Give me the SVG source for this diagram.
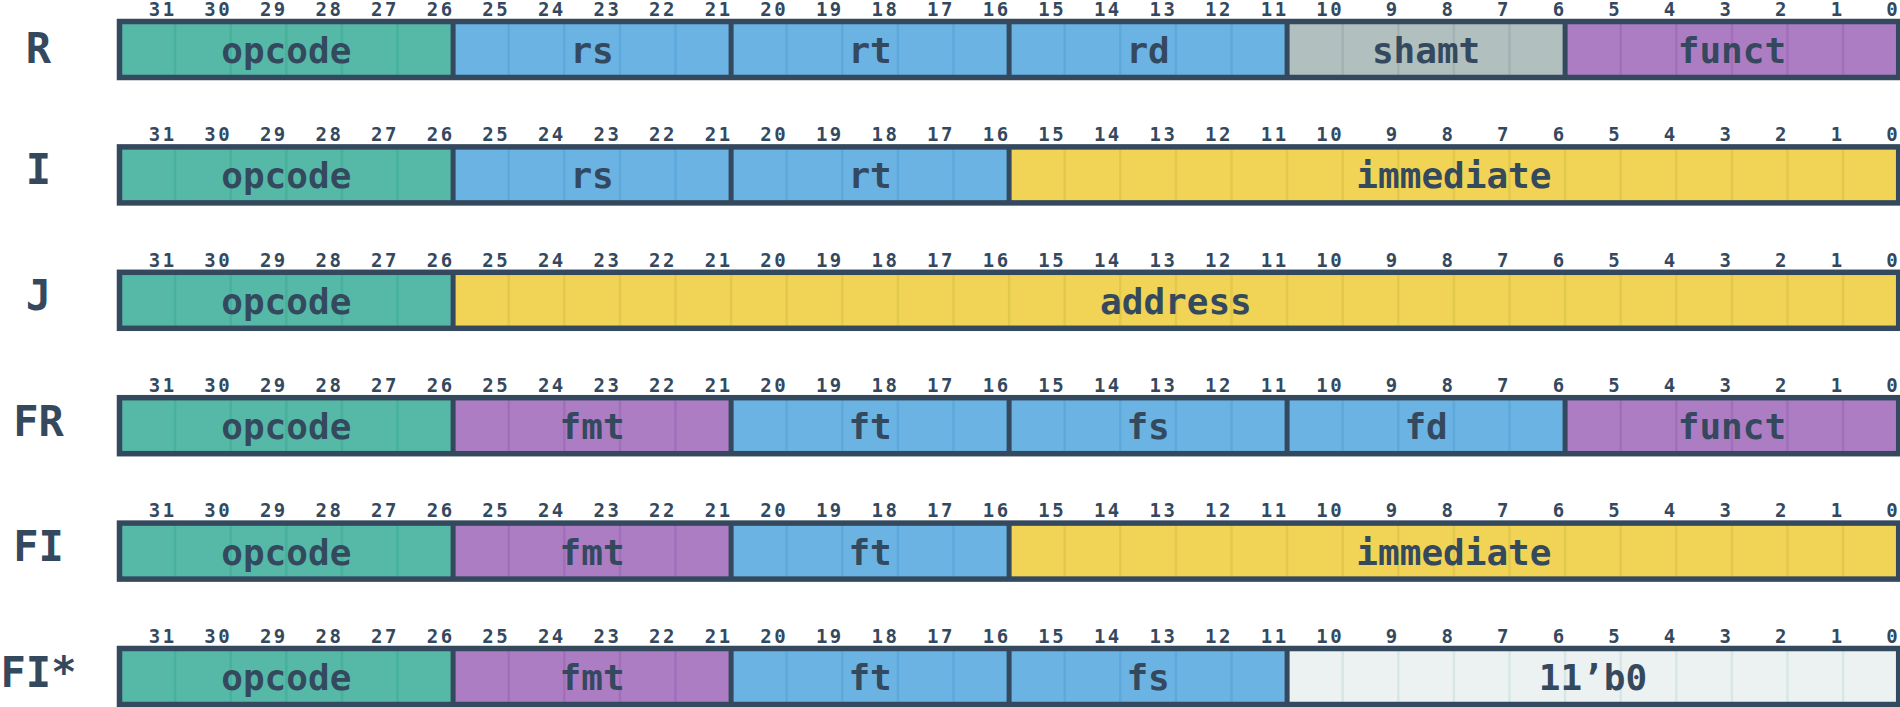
<svg xmlns="http://www.w3.org/2000/svg" width="1900" height="707" viewBox="0 0 1900 707">
<style>
text{font-family:"DejaVu Sans Mono","Liberation Mono",monospace;font-weight:bold;fill:#34495e}
.rowlabel{font-size:42px;text-anchor:middle}
.field{font-size:36px;text-anchor:middle}
.bit{font-size:19px;text-anchor:end;letter-spacing:2.5px}
.teal{fill:#56b9a7}.teal-l{stroke:#47b19c}
.blue{fill:#6bb3e3}.blue-l{stroke:#5ea9dc}
.gray{fill:#b1bfbf}.gray-l{stroke:#a1b3b4}
.purple{fill:#ad7dc4}.purple-l{stroke:#a06fba}
.yellow{fill:#f1d456}.yellow-l{stroke:#e2c84c}
.light{fill:#ecf1f2}.light-l{stroke:#d6e7e5}
path.l{stroke-width:2.5;fill:none}
.div{stroke:#34495e;stroke-width:5;fill:none}
.frame{fill:none;stroke:#34495e;stroke-width:5.5}
</style>
<rect width="1900" height="707" fill="#ffffff"/>

<!-- Row R -->
<g id="row-R">
<text class="rowlabel" x="38.5" y="63">R</text>
<text class="bit" transform="translate(-0.5 0.7)"><tspan x="177.1" y="15">31</tspan><tspan x="232.7" y="15">30</tspan><tspan x="288.3" y="15">29</tspan><tspan x="343.9" y="15">28</tspan><tspan x="399.5" y="15">27</tspan><tspan x="455.1" y="15">26</tspan><tspan x="510.7" y="15">25</tspan><tspan x="566.3" y="15">24</tspan><tspan x="621.9" y="15">23</tspan><tspan x="677.5" y="15">22</tspan><tspan x="733.1" y="15">21</tspan><tspan x="788.7" y="15">20</tspan><tspan x="844.3" y="15">19</tspan><tspan x="899.9" y="15">18</tspan><tspan x="955.5" y="15">17</tspan><tspan x="1011.1" y="15">16</tspan><tspan x="1066.7" y="15">15</tspan><tspan x="1122.3" y="15">14</tspan><tspan x="1177.9" y="15">13</tspan><tspan x="1233.5" y="15">12</tspan><tspan x="1289.1" y="15">11</tspan><tspan x="1344.7" y="15">10</tspan><tspan x="1400.3" y="15">9</tspan><tspan x="1455.9" y="15">8</tspan><tspan x="1511.5" y="15">7</tspan><tspan x="1567.1" y="15">6</tspan><tspan x="1622.7" y="15">5</tspan><tspan x="1678.3" y="15">4</tspan><tspan x="1733.9" y="15">3</tspan><tspan x="1789.5" y="15">2</tspan><tspan x="1845.1" y="15">1</tspan><tspan x="1900.7" y="15">0</tspan></text>
<g id="R-opcode"><rect class="teal" x="119.5" y="21.5" width="333.6" height="56"/><path class="l teal-l" d="M175.1 24V75M230.7 24V75M286.3 24V75M341.9 24V75M397.5 24V75"/><text class="field" x="286.3" y="63">opcode</text></g>
<g id="R-rs"><rect class="blue" x="453.1" y="21.5" width="278" height="56"/><path class="l blue-l" d="M508.7 24V75M564.3 24V75M619.9 24V75M675.5 24V75"/><text class="field" x="592.1" y="63">rs</text></g>
<g id="R-rt"><rect class="blue" x="731.1" y="21.5" width="278" height="56"/><path class="l blue-l" d="M786.7 24V75M842.3 24V75M897.9 24V75M953.5 24V75"/><text class="field" x="870.1" y="63">rt</text></g>
<g id="R-rd"><rect class="blue" x="1009.1" y="21.5" width="278" height="56"/><path class="l blue-l" d="M1064.7 24V75M1120.3 24V75M1175.9 24V75M1231.5 24V75"/><text class="field" x="1148.1" y="63">rd</text></g>
<g id="R-shamt"><rect class="gray" x="1287.1" y="21.5" width="278" height="56"/><path class="l gray-l" d="M1342.7 24V75M1398.3 24V75M1453.9 24V75M1509.5 24V75"/><text class="field" x="1426.1" y="63">shamt</text></g>
<g id="R-funct"><rect class="purple" x="1565.1" y="21.5" width="333.6" height="56"/><path class="l purple-l" d="M1620.7 24V75M1676.3 24V75M1731.9 24V75M1787.5 24V75M1843.1 24V75"/><text class="field" x="1731.9" y="63">funct</text></g>
<path class="div" d="M453.1 21.5V77.5M731.1 21.5V77.5M1009.1 21.5V77.5M1287.1 21.5V77.5M1565.1 21.5V77.5"/>
<rect class="frame" x="119.5" y="21.5" width="1779.2" height="56"/>
</g>

<!-- Row I -->
<g id="row-I" transform="translate(0,125.4)">
<text class="rowlabel" x="38.5" y="59">I</text>
<text class="bit" transform="translate(-0.5 0.7)"><tspan x="177.1" y="15">31</tspan><tspan x="232.7" y="15">30</tspan><tspan x="288.3" y="15">29</tspan><tspan x="343.9" y="15">28</tspan><tspan x="399.5" y="15">27</tspan><tspan x="455.1" y="15">26</tspan><tspan x="510.7" y="15">25</tspan><tspan x="566.3" y="15">24</tspan><tspan x="621.9" y="15">23</tspan><tspan x="677.5" y="15">22</tspan><tspan x="733.1" y="15">21</tspan><tspan x="788.7" y="15">20</tspan><tspan x="844.3" y="15">19</tspan><tspan x="899.9" y="15">18</tspan><tspan x="955.5" y="15">17</tspan><tspan x="1011.1" y="15">16</tspan><tspan x="1066.7" y="15">15</tspan><tspan x="1122.3" y="15">14</tspan><tspan x="1177.9" y="15">13</tspan><tspan x="1233.5" y="15">12</tspan><tspan x="1289.1" y="15">11</tspan><tspan x="1344.7" y="15">10</tspan><tspan x="1400.3" y="15">9</tspan><tspan x="1455.9" y="15">8</tspan><tspan x="1511.5" y="15">7</tspan><tspan x="1567.1" y="15">6</tspan><tspan x="1622.7" y="15">5</tspan><tspan x="1678.3" y="15">4</tspan><tspan x="1733.9" y="15">3</tspan><tspan x="1789.5" y="15">2</tspan><tspan x="1845.1" y="15">1</tspan><tspan x="1900.7" y="15">0</tspan></text>
<g id="I-opcode"><rect class="teal" x="119.5" y="21.5" width="333.6" height="56"/><path class="l teal-l" d="M175.1 24V75M230.7 24V75M286.3 24V75M341.9 24V75M397.5 24V75"/><text class="field" x="286.3" y="63">opcode</text></g>
<g id="I-rs"><rect class="blue" x="453.1" y="21.5" width="278" height="56"/><path class="l blue-l" d="M508.7 24V75M564.3 24V75M619.9 24V75M675.5 24V75"/><text class="field" x="592.1" y="63">rs</text></g>
<g id="I-rt"><rect class="blue" x="731.1" y="21.5" width="278" height="56"/><path class="l blue-l" d="M786.7 24V75M842.3 24V75M897.9 24V75M953.5 24V75"/><text class="field" x="870.1" y="63">rt</text></g>
<g id="I-immediate"><rect class="yellow" x="1009.1" y="21.5" width="889.6" height="56"/><path class="l yellow-l" d="M1064.7 24V75M1120.3 24V75M1175.9 24V75M1231.5 24V75M1287.1 24V75M1342.7 24V75M1398.3 24V75M1453.9 24V75M1509.5 24V75M1565.1 24V75M1620.7 24V75M1676.3 24V75M1731.9 24V75M1787.5 24V75M1843.1 24V75"/><text class="field" x="1453.9" y="63">immediate</text></g>
<path class="div" d="M453.1 21.5V77.5M731.1 21.5V77.5M1009.1 21.5V77.5"/>
<rect class="frame" x="119.5" y="21.5" width="1779.2" height="56"/>
</g>

<!-- Row J -->
<g id="row-J" transform="translate(0,250.8)">
<text class="rowlabel" x="38.5" y="59">J</text>
<text class="bit" transform="translate(-0.5 0.7)"><tspan x="177.1" y="15">31</tspan><tspan x="232.7" y="15">30</tspan><tspan x="288.3" y="15">29</tspan><tspan x="343.9" y="15">28</tspan><tspan x="399.5" y="15">27</tspan><tspan x="455.1" y="15">26</tspan><tspan x="510.7" y="15">25</tspan><tspan x="566.3" y="15">24</tspan><tspan x="621.9" y="15">23</tspan><tspan x="677.5" y="15">22</tspan><tspan x="733.1" y="15">21</tspan><tspan x="788.7" y="15">20</tspan><tspan x="844.3" y="15">19</tspan><tspan x="899.9" y="15">18</tspan><tspan x="955.5" y="15">17</tspan><tspan x="1011.1" y="15">16</tspan><tspan x="1066.7" y="15">15</tspan><tspan x="1122.3" y="15">14</tspan><tspan x="1177.9" y="15">13</tspan><tspan x="1233.5" y="15">12</tspan><tspan x="1289.1" y="15">11</tspan><tspan x="1344.7" y="15">10</tspan><tspan x="1400.3" y="15">9</tspan><tspan x="1455.9" y="15">8</tspan><tspan x="1511.5" y="15">7</tspan><tspan x="1567.1" y="15">6</tspan><tspan x="1622.7" y="15">5</tspan><tspan x="1678.3" y="15">4</tspan><tspan x="1733.9" y="15">3</tspan><tspan x="1789.5" y="15">2</tspan><tspan x="1845.1" y="15">1</tspan><tspan x="1900.7" y="15">0</tspan></text>
<g id="J-opcode"><rect class="teal" x="119.5" y="21.5" width="333.6" height="56"/><path class="l teal-l" d="M175.1 24V75M230.7 24V75M286.3 24V75M341.9 24V75M397.5 24V75"/><text class="field" x="286.3" y="63">opcode</text></g>
<g id="J-address"><rect class="yellow" x="453.1" y="21.5" width="1445.6" height="56"/><path class="l yellow-l" d="M508.7 24V75M564.3 24V75M619.9 24V75M675.5 24V75M731.1 24V75M786.7 24V75M842.3 24V75M897.9 24V75M953.5 24V75M1009.1 24V75M1064.7 24V75M1120.3 24V75M1175.9 24V75M1231.5 24V75M1287.1 24V75M1342.7 24V75M1398.3 24V75M1453.9 24V75M1509.5 24V75M1565.1 24V75M1620.7 24V75M1676.3 24V75M1731.9 24V75M1787.5 24V75M1843.1 24V75"/><text class="field" x="1175.9" y="63">address</text></g>
<path class="div" d="M453.1 21.5V77.5"/>
<rect class="frame" x="119.5" y="21.5" width="1779.2" height="56"/>
</g>

<!-- Row FR -->
<g id="row-FR" transform="translate(0,376.2)">
<text class="rowlabel" x="38.5" y="59.5">FR</text>
<text class="bit" transform="translate(-0.5 0.7)"><tspan x="177.1" y="15">31</tspan><tspan x="232.7" y="15">30</tspan><tspan x="288.3" y="15">29</tspan><tspan x="343.9" y="15">28</tspan><tspan x="399.5" y="15">27</tspan><tspan x="455.1" y="15">26</tspan><tspan x="510.7" y="15">25</tspan><tspan x="566.3" y="15">24</tspan><tspan x="621.9" y="15">23</tspan><tspan x="677.5" y="15">22</tspan><tspan x="733.1" y="15">21</tspan><tspan x="788.7" y="15">20</tspan><tspan x="844.3" y="15">19</tspan><tspan x="899.9" y="15">18</tspan><tspan x="955.5" y="15">17</tspan><tspan x="1011.1" y="15">16</tspan><tspan x="1066.7" y="15">15</tspan><tspan x="1122.3" y="15">14</tspan><tspan x="1177.9" y="15">13</tspan><tspan x="1233.5" y="15">12</tspan><tspan x="1289.1" y="15">11</tspan><tspan x="1344.7" y="15">10</tspan><tspan x="1400.3" y="15">9</tspan><tspan x="1455.9" y="15">8</tspan><tspan x="1511.5" y="15">7</tspan><tspan x="1567.1" y="15">6</tspan><tspan x="1622.7" y="15">5</tspan><tspan x="1678.3" y="15">4</tspan><tspan x="1733.9" y="15">3</tspan><tspan x="1789.5" y="15">2</tspan><tspan x="1845.1" y="15">1</tspan><tspan x="1900.7" y="15">0</tspan></text>
<g id="FR-opcode"><rect class="teal" x="119.5" y="21.5" width="333.6" height="56"/><path class="l teal-l" d="M175.1 24V75M230.7 24V75M286.3 24V75M341.9 24V75M397.5 24V75"/><text class="field" x="286.3" y="63">opcode</text></g>
<g id="FR-fmt"><rect class="purple" x="453.1" y="21.5" width="278" height="56"/><path class="l purple-l" d="M508.7 24V75M564.3 24V75M619.9 24V75M675.5 24V75"/><text class="field" x="592.1" y="63">fmt</text></g>
<g id="FR-ft"><rect class="blue" x="731.1" y="21.5" width="278" height="56"/><path class="l blue-l" d="M786.7 24V75M842.3 24V75M897.9 24V75M953.5 24V75"/><text class="field" x="870.1" y="63">ft</text></g>
<g id="FR-fs"><rect class="blue" x="1009.1" y="21.5" width="278" height="56"/><path class="l blue-l" d="M1064.7 24V75M1120.3 24V75M1175.9 24V75M1231.5 24V75"/><text class="field" x="1148.1" y="63">fs</text></g>
<g id="FR-fd"><rect class="blue" x="1287.1" y="21.5" width="278" height="56"/><path class="l blue-l" d="M1342.7 24V75M1398.3 24V75M1453.9 24V75M1509.5 24V75"/><text class="field" x="1426.1" y="63">fd</text></g>
<g id="FR-funct"><rect class="purple" x="1565.1" y="21.5" width="333.6" height="56"/><path class="l purple-l" d="M1620.7 24V75M1676.3 24V75M1731.9 24V75M1787.5 24V75M1843.1 24V75"/><text class="field" x="1731.9" y="63">funct</text></g>
<path class="div" d="M453.1 21.5V77.5M731.1 21.5V77.5M1009.1 21.5V77.5M1287.1 21.5V77.5M1565.1 21.5V77.5"/>
<rect class="frame" x="119.5" y="21.5" width="1779.2" height="56"/>
</g>

<!-- Row FI -->
<g id="row-FI" transform="translate(0,501.6)">
<text class="rowlabel" x="38.5" y="59.2">FI</text>
<text class="bit" transform="translate(-0.5 0.7)"><tspan x="177.1" y="15">31</tspan><tspan x="232.7" y="15">30</tspan><tspan x="288.3" y="15">29</tspan><tspan x="343.9" y="15">28</tspan><tspan x="399.5" y="15">27</tspan><tspan x="455.1" y="15">26</tspan><tspan x="510.7" y="15">25</tspan><tspan x="566.3" y="15">24</tspan><tspan x="621.9" y="15">23</tspan><tspan x="677.5" y="15">22</tspan><tspan x="733.1" y="15">21</tspan><tspan x="788.7" y="15">20</tspan><tspan x="844.3" y="15">19</tspan><tspan x="899.9" y="15">18</tspan><tspan x="955.5" y="15">17</tspan><tspan x="1011.1" y="15">16</tspan><tspan x="1066.7" y="15">15</tspan><tspan x="1122.3" y="15">14</tspan><tspan x="1177.9" y="15">13</tspan><tspan x="1233.5" y="15">12</tspan><tspan x="1289.1" y="15">11</tspan><tspan x="1344.7" y="15">10</tspan><tspan x="1400.3" y="15">9</tspan><tspan x="1455.9" y="15">8</tspan><tspan x="1511.5" y="15">7</tspan><tspan x="1567.1" y="15">6</tspan><tspan x="1622.7" y="15">5</tspan><tspan x="1678.3" y="15">4</tspan><tspan x="1733.9" y="15">3</tspan><tspan x="1789.5" y="15">2</tspan><tspan x="1845.1" y="15">1</tspan><tspan x="1900.7" y="15">0</tspan></text>
<g id="FI-opcode"><rect class="teal" x="119.5" y="21.5" width="333.6" height="56"/><path class="l teal-l" d="M175.1 24V75M230.7 24V75M286.3 24V75M341.9 24V75M397.5 24V75"/><text class="field" x="286.3" y="63">opcode</text></g>
<g id="FI-fmt"><rect class="purple" x="453.1" y="21.5" width="278" height="56"/><path class="l purple-l" d="M508.7 24V75M564.3 24V75M619.9 24V75M675.5 24V75"/><text class="field" x="592.1" y="63">fmt</text></g>
<g id="FI-ft"><rect class="blue" x="731.1" y="21.5" width="278" height="56"/><path class="l blue-l" d="M786.7 24V75M842.3 24V75M897.9 24V75M953.5 24V75"/><text class="field" x="870.1" y="63">ft</text></g>
<g id="FI-immediate"><rect class="yellow" x="1009.1" y="21.5" width="889.6" height="56"/><path class="l yellow-l" d="M1064.7 24V75M1120.3 24V75M1175.9 24V75M1231.5 24V75M1287.1 24V75M1342.7 24V75M1398.3 24V75M1453.9 24V75M1509.5 24V75M1565.1 24V75M1620.7 24V75M1676.3 24V75M1731.9 24V75M1787.5 24V75M1843.1 24V75"/><text class="field" x="1453.9" y="63">immediate</text></g>
<path class="div" d="M453.1 21.5V77.5M731.1 21.5V77.5M1009.1 21.5V77.5"/>
<rect class="frame" x="119.5" y="21.5" width="1779.2" height="56"/>
</g>

<!-- Row FI* -->
<g id="row-FIstar" transform="translate(0,627)">
<text class="rowlabel" x="38.5" y="60">FI*</text>
<text class="bit" transform="translate(-0.5 0.7)"><tspan x="177.1" y="15">31</tspan><tspan x="232.7" y="15">30</tspan><tspan x="288.3" y="15">29</tspan><tspan x="343.9" y="15">28</tspan><tspan x="399.5" y="15">27</tspan><tspan x="455.1" y="15">26</tspan><tspan x="510.7" y="15">25</tspan><tspan x="566.3" y="15">24</tspan><tspan x="621.9" y="15">23</tspan><tspan x="677.5" y="15">22</tspan><tspan x="733.1" y="15">21</tspan><tspan x="788.7" y="15">20</tspan><tspan x="844.3" y="15">19</tspan><tspan x="899.9" y="15">18</tspan><tspan x="955.5" y="15">17</tspan><tspan x="1011.1" y="15">16</tspan><tspan x="1066.7" y="15">15</tspan><tspan x="1122.3" y="15">14</tspan><tspan x="1177.9" y="15">13</tspan><tspan x="1233.5" y="15">12</tspan><tspan x="1289.1" y="15">11</tspan><tspan x="1344.7" y="15">10</tspan><tspan x="1400.3" y="15">9</tspan><tspan x="1455.9" y="15">8</tspan><tspan x="1511.5" y="15">7</tspan><tspan x="1567.1" y="15">6</tspan><tspan x="1622.7" y="15">5</tspan><tspan x="1678.3" y="15">4</tspan><tspan x="1733.9" y="15">3</tspan><tspan x="1789.5" y="15">2</tspan><tspan x="1845.1" y="15">1</tspan><tspan x="1900.7" y="15">0</tspan></text>
<g id="FIs-opcode"><rect class="teal" x="119.5" y="21.5" width="333.6" height="56"/><path class="l teal-l" d="M175.1 24V75M230.7 24V75M286.3 24V75M341.9 24V75M397.5 24V75"/><text class="field" x="286.3" y="63">opcode</text></g>
<g id="FIs-fmt"><rect class="purple" x="453.1" y="21.5" width="278" height="56"/><path class="l purple-l" d="M508.7 24V75M564.3 24V75M619.9 24V75M675.5 24V75"/><text class="field" x="592.1" y="63">fmt</text></g>
<g id="FIs-ft"><rect class="blue" x="731.1" y="21.5" width="278" height="56"/><path class="l blue-l" d="M786.7 24V75M842.3 24V75M897.9 24V75M953.5 24V75"/><text class="field" x="870.1" y="63">ft</text></g>
<g id="FIs-fs"><rect class="blue" x="1009.1" y="21.5" width="278" height="56"/><path class="l blue-l" d="M1064.7 24V75M1120.3 24V75M1175.9 24V75M1231.5 24V75"/><text class="field" x="1148.1" y="63">fs</text></g>
<g id="FIs-zero"><rect class="light" x="1287.1" y="21.5" width="611.6" height="56"/><path class="l light-l" d="M1342.7 24V75M1398.3 24V75M1453.9 24V75M1509.5 24V75M1565.1 24V75M1620.7 24V75M1676.3 24V75M1731.9 24V75M1787.5 24V75M1843.1 24V75"/><text class="field" x="1592.9" y="63">11’b0</text></g>
<path class="div" d="M453.1 21.5V77.5M731.1 21.5V77.5M1009.1 21.5V77.5M1287.1 21.5V77.5"/>
<rect class="frame" x="119.5" y="21.5" width="1779.2" height="56"/>
</g>
</svg>
